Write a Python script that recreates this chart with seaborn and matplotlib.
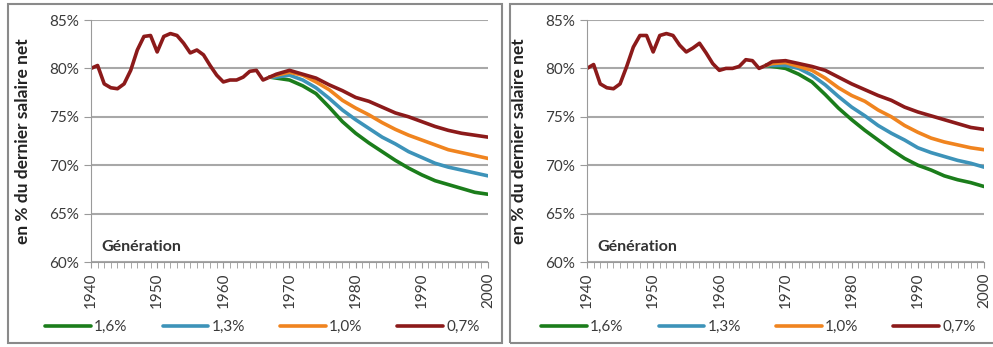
import numpy as np
import pandas as pd
import seaborn as sns
import matplotlib.pyplot as plt
from matplotlib.patches import Rectangle
from matplotlib.ticker import FuncFormatter

# ---------------------------------------------------------
# DATA
# ---------------------------------------------------------

hist_years = list(range(1940, 1968))
hist_left = [80.0, 80.3, 78.4, 78.0, 77.9, 78.4, 79.8, 81.9, 83.3, 83.4,
             81.7, 83.3, 83.6, 83.4, 82.6, 81.6, 81.9, 81.4, 80.3, 79.3,
             78.6, 78.8, 78.8, 79.1, 79.7, 79.8, 78.8, 79.1]
hist_right = [80.0, 80.4, 78.4, 78.0, 77.9, 78.4, 80.2, 82.2, 83.4, 83.4,
              81.7, 83.4, 83.6, 83.4, 82.4, 81.7, 82.1, 82.6, 81.6, 80.5,
              79.8, 80.0, 80.0, 80.2, 80.9, 80.8, 80.0, 80.3]

proj_years = [1967, 1968] + list(range(1970, 2001, 2))
scenarios = ["1,6%", "1,3%", "1,0%", "0,7%"]
decades = [1940, 1950, 1960, 1970, 1980, 1990, 2000]

left_16 = [79.1, 79.0, 78.8, 78.2, 77.4, 76.0, 74.5, 73.3, 72.3, 71.4, 70.5, 69.7, 69.0, 68.4, 68.0, 67.6, 67.2, 67.0]
left_13 = [79.1, 79.1, 79.3, 78.8, 78.0, 76.9, 75.7, 74.7, 73.8, 72.9, 72.2, 71.4, 70.8, 70.2, 69.8, 69.5, 69.2, 68.9]
left_10 = [79.1, 79.3, 79.6, 79.3, 78.6, 77.8, 76.7, 75.9, 75.2, 74.4, 73.7, 73.1, 72.6, 72.1, 71.6, 71.3, 71.0, 70.7]
left_07 = [79.1, 79.4, 79.8, 79.4, 79.0, 78.3, 77.7, 77.0, 76.6, 76.0, 75.4, 75.0, 74.5, 74.0, 73.6, 73.3, 73.1, 72.9]

right_16 = [80.3, 80.2, 80.0, 79.4, 78.6, 77.3, 75.9, 74.7, 73.6, 72.6, 71.6, 70.7, 70.0, 69.5, 68.9, 68.5, 68.2, 67.8]
right_13 = [80.3, 80.3, 80.3, 80.0, 79.3, 78.3, 77.1, 76.0, 75.1, 74.1, 73.3, 72.6, 71.8, 71.3, 70.9, 70.5, 70.2, 69.8]
right_10 = [80.3, 80.5, 80.6, 80.2, 79.8, 79.0, 78.0, 77.2, 76.6, 75.7, 75.0, 74.1, 73.4, 72.8, 72.4, 72.1, 71.8, 71.6]
right_07 = [80.3, 80.7, 80.8, 80.5, 80.2, 79.8, 79.1, 78.4, 77.8, 77.2, 76.7, 76.0, 75.5, 75.1, 74.7, 74.3, 73.9, 73.7]

colors = ["#1b7d1b", "#3d93b9", "#f0841f", "#8c1a1a"]


def make_proj(series):
    rows = []
    for name, vals in zip(scenarios, series):
        for y, v in zip(proj_years, vals):
            rows.append({"Année": y, "Taux": v, "Scénario": name})
    return pd.DataFrame(rows)


# ---------------------------------------------------------
# STYLE
# ---------------------------------------------------------

sns.set_style("white")
plt.rcParams.update({
    "font.family": ["Lato", "DejaVu Sans"],
    "xtick.bottom": True,
    "ytick.left": True,
    "xtick.direction": "out",
    "ytick.direction": "out",
    "xtick.major.size": 4,
    "xtick.minor.size": 4,
    "ytick.major.size": 5,
    "xtick.color": "#9a9a9a",
    "ytick.color": "#9a9a9a",
    "xtick.labelcolor": "#3a3a3a",
    "ytick.labelcolor": "#3a3a3a",
    "xtick.labelsize": 11,
    "ytick.labelsize": 11,
    "axes.edgecolor": "#9a9a9a",
})

# ---------------------------------------------------------
# PLOT
# ---------------------------------------------------------

fig = plt.figure(figsize=(9.93, 3.47), dpi=100)

# panel frames
fig.add_artist(Rectangle((8 / 993, 4 / 347), 494 / 993, 339 / 347,
                         transform=fig.transFigure, fill=False,
                         ec="#8a8a8a", lw=1.5))
fig.add_artist(Rectangle((510 / 993, 4 / 347), 490 / 993, 339 / 347,
                         transform=fig.transFigure, fill=False,
                         ec="#8a8a8a", lw=1.5))

panels = [
    (91 / 993, hist_left, [left_16, left_13, left_10, left_07]),
    (587 / 993, hist_right, [right_16, right_13, right_10, right_07]),
]

axes = []
for x0, hist, proj in panels:
    ax = fig.add_axes([x0, 1 - 262 / 347, 397 / 993, 242 / 347])
    axes.append(ax)
    hist_df = pd.DataFrame({"Année": hist_years, "Taux": hist})
    proj_df = make_proj(proj)

    sns.lineplot(data=hist_df, x="Année", y="Taux", color=colors[-1],
                 lw=2.6, legend=False, ax=ax)
    sns.lineplot(data=proj_df, x="Année", y="Taux", hue="Scénario",
                 hue_order=scenarios, palette=colors, lw=2.6, ax=ax)

    ax.set_xlim(1940, 2000)
    ax.set_ylim(60, 85)
    ax.set_yticks(range(60, 86, 5))
    ax.yaxis.set_major_formatter(FuncFormatter(lambda v, p: f"{v:.0f}%"))
    ax.set_xticks(range(1940, 2001), minor=True)
    ax.set_xticks(decades)
    ax.set_xticklabels([str(d) for d in decades], rotation=90)

    ax.grid(axis="y", color="#a8a8a8", lw=1.5)
    ax.set_axisbelow(True)
    ax.spines["top"].set_visible(False)
    ax.spines["right"].set_visible(False)

    ax.set_xlabel("")
    ax.set_ylabel("en % du dernier salaire net", fontsize=12.5,
                  fontweight="bold", color="#222222")
    ax.yaxis.set_label_coords(-0.15, 0.5)
    ax.text(0.025, 0.06, "Génération", transform=ax.transAxes,
            fontsize=11.5, fontweight="bold", color="#333333", va="center")

    sns.move_legend(ax, "center left", bbox_to_anchor=(-0.15, -0.27),
                    ncol=4, frameon=False, title=None, fontsize=11,
                    handlelength=3.0, handletextpad=0.2, columnspacing=2.3)
    for t in ax.get_legend().get_texts():
        t.set_color("#3a3a3a")

fig.canvas.draw()
for ax in axes:
    ax.tick_params(axis="x", which="both", bottom=True, length=4,
                   color="#9a9a9a", labelrotation=90)
    ax.tick_params(axis="y", left=True, length=5, color="#9a9a9a")
    for lbl in ax.get_xticklabels():
        lbl.set_rotation(90)

fig.savefig("out.png", dpi=100)
